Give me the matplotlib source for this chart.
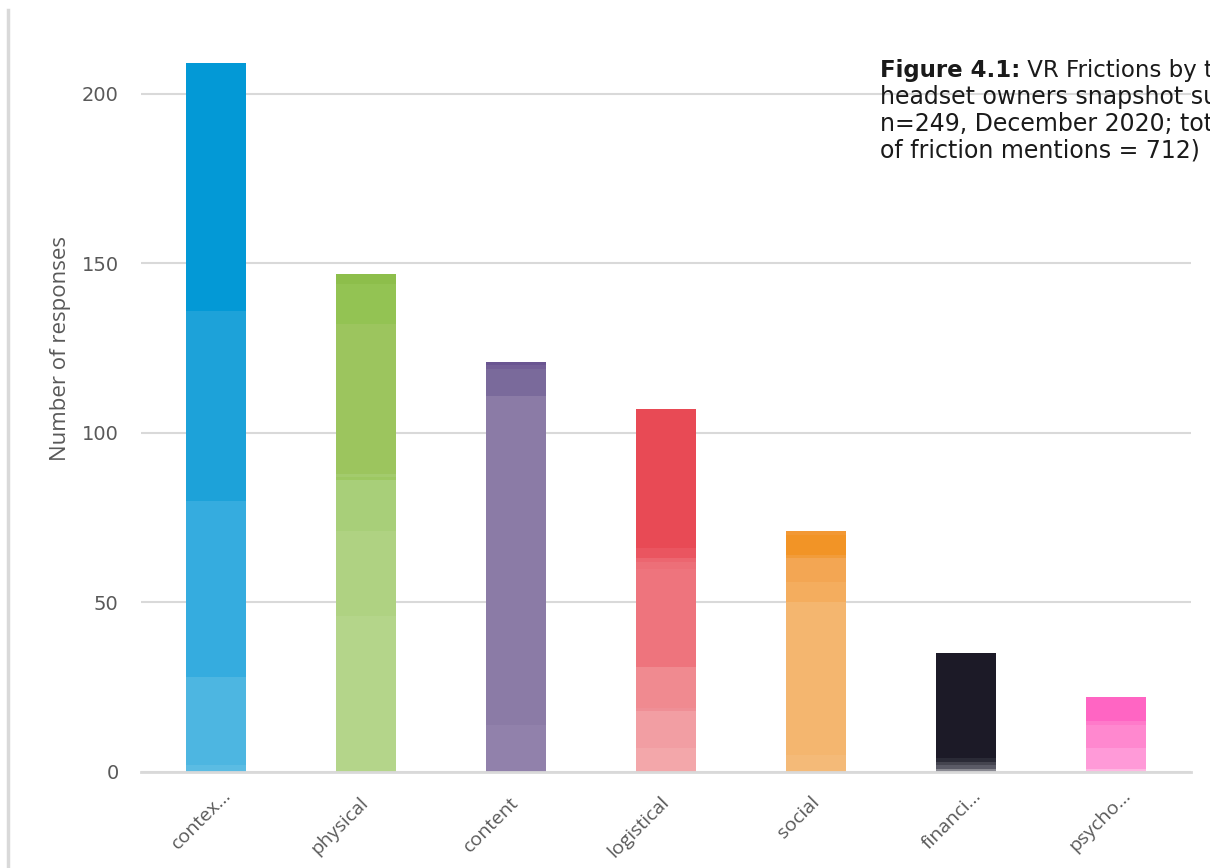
import matplotlib
matplotlib.use("Agg")
import matplotlib.pyplot as plt
from matplotlib.lines import Line2D
from matplotlib.transforms import ScaledTranslation

categories = ["contex…", "physical", "content", "logistical", "social", "financi…", "psycho…"]

# segment counts per category, bottom to top
contextual = [2, 26, 52, 56, 73]
physical = [46, 25, 15, 1, 1, 44, 12, 3]
content = [14, 97, 8, 1, 1]
logistical = [7, 11, 1, 12, 29, 2, 1, 3, 41]
social = [5, 45, 6, 7, 1, 6, 1]
financial = [1, 1, 1, 1, 31]
psychological = [1, 6, 7, 1, 7]

segments = [contextual, physical, content, logistical, social, financial, psychological]

colors = [
    ["#5BBCE3", "#4DB6E1", "#35ACDF", "#1DA2D9", "#0399D6"],
    ["#B4D58A", "#AFD282", "#A8CF79", "#9DC862", "#A3CB6D", "#9CC55E", "#93C353", "#8DBE4B"],
    ["#9181AB", "#8B7BA6", "#7A6A9B", "#735F96", "#6A5591"],
    ["#F3A7AA", "#F29EA3", "#EF8F96", "#F08A90", "#EE747D", "#ED6F78", "#EC6670", "#EA5560", "#E84A55"],
    ["#F4BA78", "#F4B66F", "#F4AD5E", "#F3A653", "#F29C3A", "#F29426", "#F29834"],
    ["#8A8A92", "#5A5A66", "#44444F", "#2A2A36", "#1C1A27"],
    ["#FFB8E2", "#FF9AD8", "#FF88CF", "#FF7ACA", "#FF65C3"],
]

fig = plt.figure(figsize=(12.1, 8.68), dpi=100)
ax = fig.add_axes([0.1165, 0.1106, 0.868, 0.8594])

for i, (counts, cols) in enumerate(zip(segments, colors)):
    bottom = 0
    for c, col in zip(counts, cols):
        ax.bar(i, c, bottom=bottom, width=0.4, color=col, linewidth=0, zorder=3)
        bottom += c

ax.set_xlim(-0.5, 6.5)
ax.set_ylim(0, 220)
ax.set_yticks([0, 50, 100, 150, 200])
ax.yaxis.grid(True, color="#D9D9D9", linewidth=1.5, zorder=0)
ax.set_axisbelow(True)
for s in ["top", "right", "left"]:
    ax.spines[s].set_visible(False)
ax.spines["bottom"].set_color("#D9D9D9")
ax.spines["bottom"].set_linewidth(2)
ax.spines["bottom"].set_zorder(4)

ax.tick_params(axis="y", length=0, pad=16, labelsize=14, labelcolor="#595959")
ax.tick_params(axis="x", length=0, pad=20, labelcolor="#595959")
ax.set_xticks(range(len(categories)))
ax.set_xticklabels(categories, rotation=45, ha="right", va="center", rotation_mode="anchor",
                   fontsize=14, family=["Open Sans", "DejaVu Sans"])
# truncated labels sit a bit further up and right in the original
for lab in ax.get_xticklabels():
    if lab.get_text().endswith("…"):
        lab.set_transform(lab.get_transform() + ScaledTranslation(0.12, 0.07, fig.dpi_scale_trans))

ax.set_ylabel("Number of responses", fontsize=16, color="#595959",
              family=["Open Sans", "DejaVu Sans"])
ax.yaxis.set_label_coords(-0.067, 0.568)

# caption, partly cut off at the right edge as in the original
x0 = 880 / 1210
t = fig.text(x0, 1 - 77 / 868, "Figure 4.1:", fontsize=16.5, fontweight="bold", color="#1a1a1a")
ax.annotate(" VR Frictions by type (VR", xy=(1, 0), xycoords=t, fontsize=16.5,
            color="#1a1a1a", va="bottom", annotation_clip=False)
lines = ["headset owners snapshot survey,", "n=249, December 2020; total number",
         "of friction mentions = 712)"]
for k, ln in enumerate(lines):
    fig.text(x0, 1 - (104 + 27 * k) / 868, ln, fontsize=17, color="#1a1a1a")

fig.add_artist(Line2D([8 / 1210, 8 / 1210], [0, 1 - 10 / 868], color="#D9D9D9", linewidth=2.5))

fig.savefig("out.png", dpi=100)
